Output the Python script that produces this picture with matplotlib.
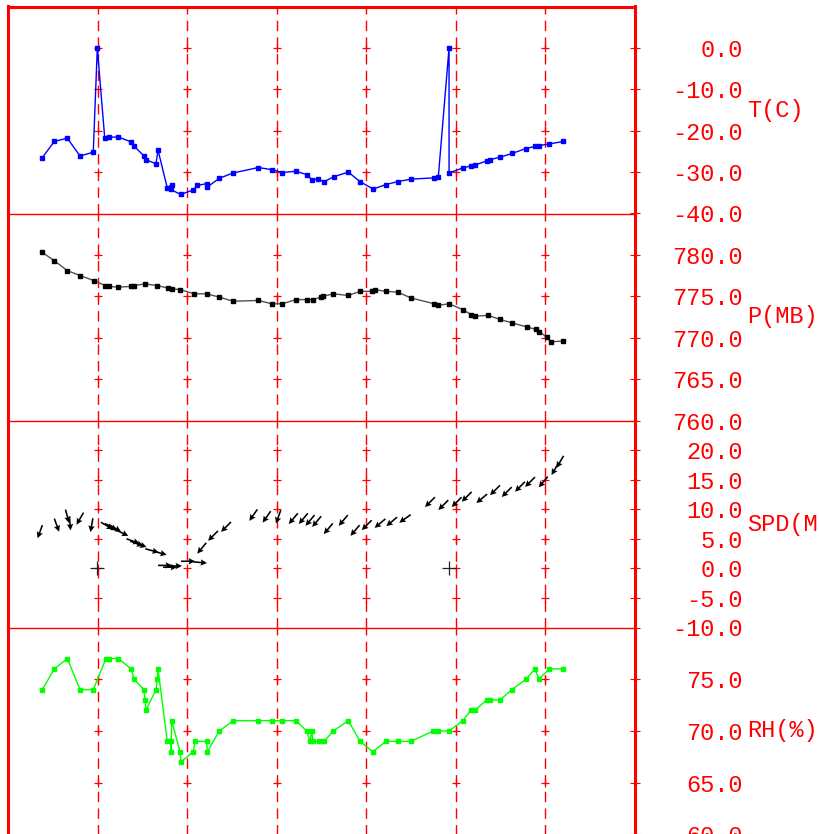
import numpy as np
import matplotlib
matplotlib.use("Agg")
import matplotlib.pyplot as plt

# ---- sounding / surface record (time in hours from start) ----
temp_time = [0.383, 0.517, 0.662, 0.804, 0.952, 0.997, 1.080, 1.128, 1.231, 1.373,
             1.407, 1.518, 1.541, 1.652, 1.675, 1.778, 1.828, 1.816, 1.928, 2.069,
             2.113, 2.218, 2.225, 2.359, 2.515, 2.794, 2.944, 3.062, 3.215, 3.335,
             3.391, 3.464, 3.528, 3.640, 3.799, 3.930, 4.078, 4.220, 4.351, 4.499,
             4.753, 4.804, 4.924, 4.924, 5.077, 5.169, 5.214, 5.344, 5.381, 5.493,
             5.627, 5.783, 5.883, 5.928, 6.043, 6.200]
temp_c = [-26.5, -22.6, -21.8, -26.1, -25.2, 0.0, -21.8, -21.6, -21.5, -22.7,
          -23.7, -26.1, -27.0, -28.0, -24.7, -33.8, -33.0, -34.2, -35.4, -34.3,
          -33.2, -32.8, -33.6, -31.5, -30.2, -28.9, -29.4, -30.1, -29.8, -30.6,
          -31.8, -31.7, -32.3, -31.1, -30.0, -32.3, -34.1, -33.0, -32.3, -31.7,
          -31.4, -31.2, 0.0, -30.2, -29.0, -28.5, -28.3, -27.3, -27.0, -26.4,
          -25.5, -24.3, -23.8, -23.6, -23.2, -22.6]

pres_time = [0.383, 0.517, 0.662, 0.807, 0.957, 1.086, 1.128, 1.231, 1.373, 1.407,
             1.530, 1.664, 1.783, 1.828, 1.924, 2.080, 2.218, 2.359, 2.515, 2.794,
             2.944, 3.062, 3.215, 3.342, 3.402, 3.491, 3.520, 3.632, 3.799, 3.930,
             4.061, 4.097, 4.220, 4.351, 4.499, 4.759, 4.797, 4.924, 5.077, 5.169,
             5.214, 5.362, 5.493, 5.627, 5.791, 5.895, 5.932, 6.014, 6.059, 6.200]
pres_mb = [780.3, 779.3, 778.1, 777.5, 776.9, 776.3, 776.2, 776.1, 776.2, 776.3,
           776.5, 776.3, 776.0, 775.9, 775.8, 775.3, 775.3, 774.9, 774.4, 774.5,
           774.1, 774.1, 774.6, 774.6, 774.6, 774.9, 775.0, 775.3, 775.1, 775.6,
           775.6, 775.8, 775.6, 775.5, 774.8, 774.1, 773.9, 774.1, 773.4, 772.8,
           772.6, 772.7, 772.2, 771.8, 771.3, 771.0, 770.7, 770.1, 769.5, 769.6]

wind_time = [0.357, 0.544, 0.662, 0.692, 0.804, 0.934, 1.105, 1.150, 1.195, 1.273,
             1.396, 1.437, 1.474, 1.608, 1.697, 1.753, 1.809, 1.864, 2.010, 2.144,
             2.163, 2.289, 2.434, 2.739, 2.888, 3.018, 3.185, 3.297, 3.372, 3.446,
             3.576, 3.743, 3.874, 4.005, 4.153, 4.284, 4.432, 4.711, 4.860, 5.009,
             5.121, 5.289, 5.437, 5.568, 5.716, 5.828, 5.976, 6.107, 6.163]
wind_spd = [6.2, 7.3, 8.8, 7.6, 8.4, 7.3, 7.2, 7.0, 6.8, 6.0,
            4.6, 4.2, 4.0, 3.0, 2.6, 0.5, 0.2, 0.4, 1.2, 1.0,
            3.4, 5.5, 7.0, 9.0, 8.7, 8.7, 8.4, 8.4, 8.1, 7.9,
            6.7, 8.1, 6.4, 7.3, 7.6, 7.9, 8.4, 11.2, 10.7, 11.2,
            12.1, 11.8, 13.2, 12.9, 13.8, 14.6, 14.6, 16.8, 18.0]
# direction the wind blows from (degrees, meteorological)
wind_dir = [20, 340, 345, 355, 30, 10, 300, 300, 300, 295,
            290, 290, 290, 285, 285, 270, 270, 270, 270, 275,
            40, 45, 45, 35, 35, 20, 40, 40, 40, 40,
            40, 40, 40, 45, 50, 50, 55, 45, 45, 45,
            45, 50, 45, 45, 45, 45, 40, 30, 30]
calm_time = [0.997, 4.924]
calm_spd = [0.0, 0.0]

rh_time = [0.383, 0.517, 0.662, 0.804, 0.952, 1.094, 1.128, 1.231, 1.376, 1.407,
           1.518, 1.530, 1.541, 1.652, 1.667, 1.675, 1.778, 1.816, 1.820, 1.828,
           1.920, 1.931, 2.069, 2.088, 2.218, 2.225, 2.359, 2.515, 2.794, 2.944,
           3.062, 3.215, 3.335, 3.372, 3.391, 3.405, 3.476, 3.528, 3.632, 3.799,
           3.930, 4.072, 4.220, 4.351, 4.499, 4.748, 4.797, 4.924, 5.077, 5.169,
           5.214, 5.344, 5.381, 5.493, 5.627, 5.783, 5.883, 5.928, 6.043, 6.200]
rh_pct = [74, 76, 77, 74, 74, 77, 77, 77, 76, 75,
          74, 73, 72, 74, 75, 76, 69, 69, 68, 71,
          68, 67, 68, 69, 69, 68, 70, 71, 71, 71,
          71, 71, 70, 69, 70, 69, 69, 69, 70, 71,
          69, 68, 69, 69, 69, 70, 70, 70, 71, 72,
          72, 73, 73, 73, 74, 75, 76, 75, 76, 76]

hour_lines = [1, 2, 3, 4, 5, 6]
temp_ticks = [-40, -30, -20, -10, 0]
pres_ticks = [760, 765, 770, 775, 780]
spd_ticks = [-10, -5, 0, 5, 10, 15, 20]
rh_ticks = [60, 65, 70, 75]

# ---- figure ----
RED = "#ff0000"
MONO = "Liberation Mono"
plt.rcParams["lines.scale_dashes"] = False

W, H = 819, 834
fig = plt.figure(figsize=(W / 100, H / 100), dpi=100)
fig.patch.set_facecolor("white")

panels = [
    ("T(C)", (-40, 10), temp_ticks),
    ("P(MB)", (760, 785), pres_ticks),
    ("SPD(M/S)", (-10, 25), spd_ticks),
    ("RH(%)", (60, 80), rh_ticks),
]
panel_h = 207
tops = [6.5, 213.5, 420.5, 627.5]
x0, x1 = 8, 635

axes = []
for i, ((label, ylim, ticks), top) in enumerate(zip(panels, tops)):
    ax = fig.add_axes([x0 / W, (H - top - panel_h) / H, (x1 - x0) / W, panel_h / H])
    axes.append(ax)
    ax.set_xlim(0, 7)
    ax.set_ylim(*ylim)
    ax.set_xticks([])
    ax.patch.set_visible(False)

    # frame
    for side in ("left", "right"):
        ax.spines[side].set_color(RED)
        ax.spines[side].set_linewidth(2.2)
    ax.spines["bottom"].set_color(RED)
    ax.spines["bottom"].set_linewidth(1.0)
    if i == 0:
        ax.spines["top"].set_color(RED)
        ax.spines["top"].set_linewidth(2.2)
    else:
        ax.spines["top"].set_visible(False)

    # hourly dashed guides with small crosses at each labelled level
    for t in hour_lines:
        ax.axvline(t, color=RED, lw=1.0, linestyle=(0, (7.5, 4.5)), zorder=1)
    inner = [v for v in ticks if v != ylim[0]]
    for t in hour_lines:
        ax.plot([t] * len(inner), inner, linestyle="none", marker="+",
                ms=5.5, mew=0.9, color=RED, zorder=1)

    # right-hand scale
    ax.yaxis.tick_right()
    ax.set_yticks(ticks, labels=[f"{v:.1f}" for v in ticks], ha="right",
                  family=MONO, fontsize=17, color=RED)
    ax.tick_params(axis="y", direction="inout", length=7.2, width=0.8,
                   color=RED, pad=74.2)
    ax.text(1.1786, 0.5, label, transform=ax.transAxes, ha="left", va="center",
            family=MONO, fontsize=17, color=RED)

ax_t, ax_p, ax_w, ax_rh = axes

ax_t.plot(temp_time, temp_c, color="#0000ff", lw=1.0, marker="s", ms=3.3,
          mfc="#0000ff", mec="#0000ff", zorder=3)

ax_p.plot(pres_time, pres_mb, color="#505050", lw=1.0, marker="s", ms=3.3,
          mfc="black", mec="black", zorder=3)

ax_rh.plot(rh_time, rh_pct, color="#00ff00", lw=1.0, marker="s", ms=3.3,
           mfc="#00ff00", mec="#00ff00", zorder=3)

# wind arrows: point the way the air moves, fixed length on screen
arrow_len = 14.0
d = np.radians(np.asarray(wind_dir, dtype=float))
u = -arrow_len * np.sin(d)
v = -arrow_len * np.cos(d)
ax_w.quiver(wind_time, wind_spd, u, v, angles="uv", scale_units="dots", scale=1,
            units="dots", width=1.6, headwidth=4.0, headlength=4.0,
            headaxislength=3.5, pivot="middle", color="black", zorder=3)
ax_w.plot(calm_time, calm_spd, linestyle="none", marker="+", ms=9.5, mew=0.9,
          color="#222222", zorder=3)

fig.savefig("out.png", dpi=100, facecolor="white")
